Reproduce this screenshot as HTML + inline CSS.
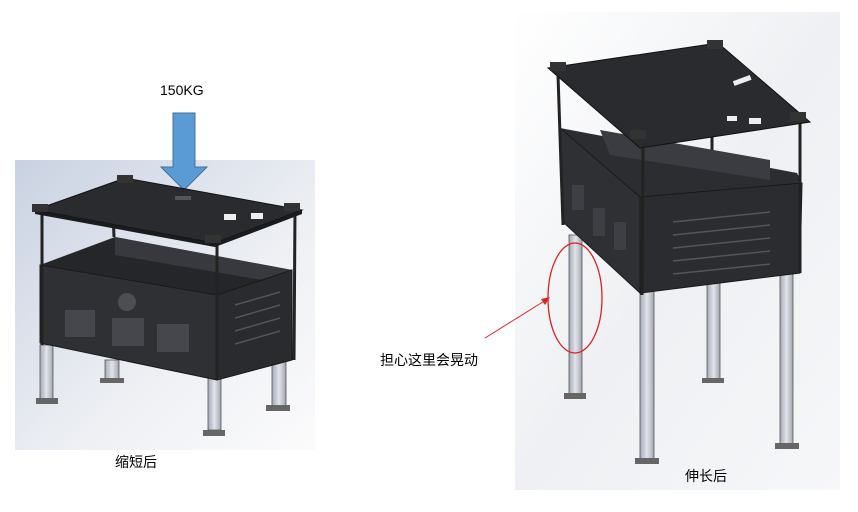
<!DOCTYPE html>
<html><head><meta charset="utf-8"><style>
html,body{margin:0;padding:0;background:#fff;width:858px;height:512px;overflow:hidden}
svg{display:block}
text{font-family:"Liberation Sans","Noto Sans CJK SC",sans-serif;font-size:14px;fill:#000}
</style></head><body>
<svg width="858" height="512" viewBox="0 0 858 512" xmlns="http://www.w3.org/2000/svg">
<defs>
<linearGradient id="bgL" x1="0" y1="0" x2="1" y2="1"><stop offset="0" stop-color="#c9d2e2"/><stop offset="0.6" stop-color="#eef0f4"/><stop offset="1" stop-color="#fbfbfc"/></linearGradient>
<linearGradient id="bgR" x1="0" y1="0" x2="1" y2="1"><stop offset="0" stop-color="#ffffff"/><stop offset="0.5" stop-color="#eef0f3"/><stop offset="1" stop-color="#f6f7f9"/></linearGradient>
<linearGradient id="leg" x1="0" x2="1"><stop offset="0" stop-color="#a4a9b4"/><stop offset="0.5" stop-color="#e2e4ec"/><stop offset="1" stop-color="#a0a5ae"/></linearGradient>
</defs>
<rect x="15" y="160" width="300" height="290" fill="url(#bgL)"/>
<text x="160" y="95">150KG</text>
<polygon points="173,113 195,113 195,167 207,167 184,190 161,167 173,167" fill="#5b9bd5" stroke="#41719c" stroke-width="1"/>
<g fill="url(#leg)" stroke="#555" stroke-width="0.8">
<rect x="40" y="345" width="13" height="55"/><rect x="105" y="360" width="14" height="22"/>
<rect x="208" y="378" width="13" height="52"/><rect x="272" y="355" width="14" height="52"/>
</g>
<g fill="#666"><rect x="36" y="398" width="22" height="6"/><rect x="203" y="430" width="22" height="6"/><rect x="266" y="405" width="24" height="6"/><rect x="100" y="378" width="24" height="5"/></g>
<polygon points="40,265 115,237 292,270 217,295" fill="#25262a"/>
<polygon points="115,237 292,270 292,285 115,255" fill="#38393e"/>
<polygon points="40,265 217,295 217,380 40,343" fill="#2f3034" stroke="#1a1a1a"/>
<polygon points="217,295 292,270 292,360 217,380" fill="#2a2b2f" stroke="#1a1a1a"/>
<g fill="#45474c"><rect x="65" y="310" width="30" height="27"/><rect x="112" y="318" width="32" height="28"/><rect x="157" y="324" width="32" height="28"/></g>
<circle cx="127" cy="302" r="9" fill="#4c4e53"/>
<g stroke="#555" stroke-width="1.5"><line x1="235" y1="305" x2="280" y2="292"/><line x1="235" y1="318" x2="280" y2="305"/><line x1="235" y1="331" x2="280" y2="318"/><line x1="235" y1="344" x2="280" y2="331"/></g>
<g stroke="#222" stroke-width="3"><line x1="42" y1="215" x2="42" y2="345"/><line x1="112" y1="185" x2="114" y2="237"/><line x1="295" y1="210" x2="294" y2="360"/><line x1="217" y1="243" x2="217" y2="380"/></g>
<polygon points="35,210 125,178 302,210 215,243" fill="#2a2b2f" stroke="#111"/>
<polygon points="35,210 215,243 302,210 302,214 215,247 35,214" fill="#1a1b1e"/>
<rect x="224" y="214" width="12" height="6" fill="#eee"/><rect x="251" y="213" width="12" height="6" fill="#eee"/>
<rect x="175" y="196" width="16" height="4" fill="#555"/>
<g fill="#333"><rect x="32" y="204" width="16" height="8"/><rect x="117" y="175" width="16" height="8"/><rect x="284" y="203" width="16" height="8"/><rect x="205" y="235" width="16" height="8"/></g>
<text x="115" y="467">缩短后</text>
<rect x="515" y="12" width="325" height="478" fill="url(#bgR)"/>
<g fill="url(#leg)" stroke="#555" stroke-width="0.8">
<rect x="569" y="235" width="13" height="160"/><rect x="640" y="290" width="14" height="170"/>
<rect x="707" y="280" width="13" height="100"/><rect x="780" y="270" width="13" height="175"/>
</g>
<g fill="#666"><rect x="564" y="393" width="22" height="6"/><rect x="635" y="458" width="24" height="6"/><rect x="702" y="378" width="22" height="5"/><rect x="775" y="443" width="24" height="6"/></g>
<polygon points="560,128 797,173 802,183 640,197" fill="#2c2d31"/>
<polygon points="600,130 770,160 770,180 610,155" fill="#3a3c41"/>
<polygon points="560,128 640,197 640,293 563,222" fill="#2f3034" stroke="#1a1a1a"/>
<polygon points="640,197 802,183 800,273 640,293" fill="#2b2c30" stroke="#1a1a1a"/>
<g fill="#3d3f44"><rect x="572" y="185" width="12" height="25"/><rect x="593" y="208" width="12" height="28"/><rect x="614" y="222" width="12" height="28"/></g>
<g stroke="#555" stroke-width="1.5"><line x1="673" y1="222" x2="770" y2="212"/><line x1="673" y1="235" x2="770" y2="225"/><line x1="673" y1="248" x2="770" y2="238"/><line x1="673" y1="261" x2="770" y2="251"/><line x1="673" y1="274" x2="770" y2="264"/></g>
<g stroke="#222" stroke-width="3"><line x1="558" y1="75" x2="563" y2="225"/><line x1="643" y1="140" x2="642" y2="295"/><line x1="800" y1="122" x2="800" y2="273"/><line x1="712" y1="50" x2="712" y2="150"/></g>
<polygon points="548,68 718,43 810,122 640,148" fill="#2a2b2f" stroke="#111"/>
<g fill="#333"><rect x="550" y="62" width="16" height="9"/><rect x="707" y="40" width="16" height="9"/><rect x="790" y="112" width="16" height="9"/><rect x="630" y="130" width="16" height="9"/></g>
<rect x="733" y="78" width="18" height="5" fill="#eee" transform="rotate(-20 742 80)"/>
<rect x="727" y="116" width="10" height="5" fill="#eee"/><rect x="749" y="118" width="12" height="6" fill="#eee"/>
<ellipse cx="575" cy="298" rx="27" ry="55" fill="none" stroke="#e02020" stroke-width="1.3"/>
<line x1="485" y1="338" x2="546" y2="300" stroke="#e02020" stroke-width="1"/>
<polygon points="550,297 541,299 545,305" fill="#e02020"/>
<text x="380" y="365">担心这里会晃动</text>
<text x="685" y="481">伸长后</text>
</svg>
</body></html>
